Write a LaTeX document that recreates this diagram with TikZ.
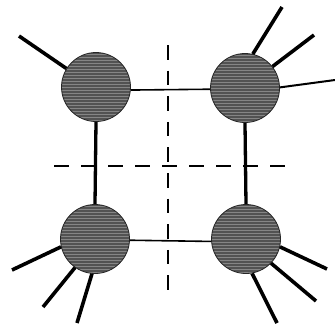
\documentclass[tikz,border=0pt]{standalone}
\begin{document}
\begin{tikzpicture}[x=1pt,y=-1pt,
  blob/.style={circle,minimum size=69pt,inner sep=0pt,draw=black!85,line width=0.8pt,fill=black!68,
    path picture={\foreach \k in {0,...,24}{\draw[black!48,line width=0.8pt]
      ([yshift=\k*3pt+1pt]path picture bounding box.south west) -- ([yshift=\k*3pt+1pt]path picture bounding box.south east);}}},
  stub/.style={line width=3.6pt},
  rung/.style={line width=3.3pt},
  bond/.style={line width=1.6pt},
  hcut/.style={line width=2.4pt,dash pattern=on 15pt off 12pt},
  vcut/.style={line width=2.4pt,dash pattern=on 14.5pt off 11.1pt}]
\useasboundingbox (0,0) rectangle (335,325);
\node[blob] (tl) at (96,87) {};
\node[blob] (tr) at (245,88) {};
\node[blob] (bl) at (95,239) {};
\node[blob] (br) at (246,239) {};
% cuts
\coordinate (vt) at (168,45);
\coordinate (vb) at (168,290);
\coordinate (hl) at (54,166);
\coordinate (hr) at (285,166);
\draw[vcut] (vt) -- (vb);
\draw[hcut] (hl) -- (hr);
% connectors
\draw[bond] (tl.-5) -- (tr.182);
\draw[bond] (bl.-2) -- (br.184);
\draw[rung] (tl.south) -- (bl.north);
\draw[rung] (tr.south) -- (br.north);
% external legs
\coordinate (a1) at (19,36);
\draw[stub] (tl.148) -- (a1);
\coordinate (b1) at (282,7);
\coordinate (b2) at (314,35);
\coordinate (b3) at (335,80);
\draw[stub] (tr.77) -- (b1);
\draw[stub] (tr.38) -- (b2);
\draw[bond,line width=2pt] (tr.1) -- (b3);
\coordinate (c1) at (12,270);
\coordinate (c2) at (43,307);
\coordinate (c3) at (77,323);
\draw[stub] (bl.193) -- (c1);
\draw[stub] (bl.235) -- (c2);
\draw[stub] (bl.265) -- (c3);
\coordinate (d1) at (327,269);
\coordinate (d2) at (316,301);
\coordinate (d3) at (277,323);
\draw[stub] (br.347) -- (d1);
\draw[stub] (br.316) -- (d2);
\draw[stub] (br.280) -- (d3);
\end{tikzpicture}
\end{document}
